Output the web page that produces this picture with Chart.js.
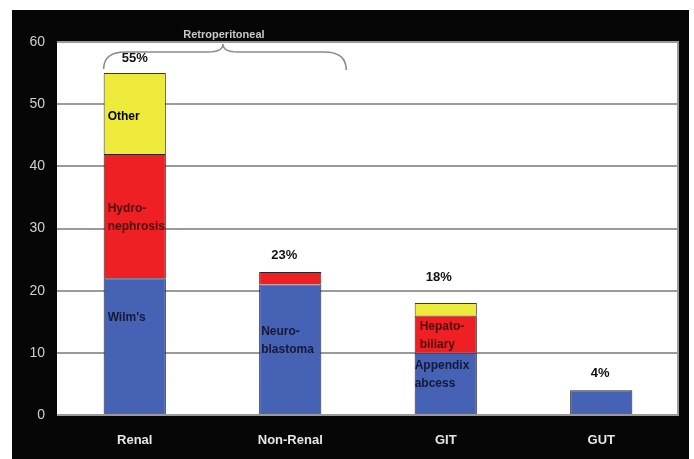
<!DOCTYPE html>
<html>
<head>
<meta charset="utf-8">
<script src="https://cdn.jsdelivr.net/npm/chart.js@4/dist/chart.umd.min.js"></script>
<style>
html, body { margin: 0; padding: 0; background: #fff; }
</style>
</head>
<body>
<canvas id="bar" width="694" height="459"></canvas>
<script>
// chart data
const categories = ['Renal', 'Non-Renal', 'GIT', 'GUT'];
const blueValues = [22, 21, 10, 4];
const redValues = [20, 2, 6, null];
const yellowValues = [13, null, 2, null];
const totalLabels = ['55%', '23%', '18%', '4%'];
const blueNames = ["Wilm's", 'Neuro-\nblastoma', 'Appendix\nabcess', ''];
const redNames = ['Hydro-\nnephrosis', '', 'Hepato-\nbiliary', ''];
const yellowNames = ['Other', '', '', ''];
const groupLabel = 'Retroperitoneal';

const FONT = '"Liberation Sans", Arial, sans-serif';

// black frame + white plot area behind the chart
const framePlugin = {
    id: 'frame',
    beforeDraw: function (c) {
        const ctx = c.ctx;
        const a = c.chartArea;
        ctx.save();
        ctx.fillStyle = '#fff';
        ctx.fillRect(0, 0, c.width, c.height);
        ctx.fillStyle = '#060606';
        ctx.fillRect(12, 10, 677, 449);
        ctx.fillStyle = '#fff';
        ctx.fillRect(a.left, a.top, a.right - a.left, a.bottom - a.top);
        ctx.restore();
    },
    afterDraw: function (c) {
        const ctx = c.ctx;
        const a = c.chartArea;
        ctx.save();
        ctx.strokeStyle = '#9a9a9a';
        ctx.lineWidth = 2;
        ctx.beginPath();
        ctx.moveTo(a.right - 1, a.top);
        ctx.lineTo(a.right - 1, a.bottom);
        ctx.stroke();
        ctx.restore();
    }
};

// text inside / above the bars, and the bracket
const labelPlugin = {
    id: 'labels',
    afterDatasetsDraw: function (c) {
        const ctx = c.ctx;
        const x = c.scales.x;
        const y = c.scales.y;
        const a = c.chartArea;
        const barW = x.width / categories.length * 0.4;
        ctx.save();
        ctx.textBaseline = 'middle';

        function drawLines(text, left, mid, color) {
            const lines = text.split('\n');
            ctx.fillStyle = color;
            lines.forEach(function (ln, k) {
                ctx.fillText(ln, left, mid + (k - (lines.length - 1) / 2) * 18);
            });
        }

        ctx.font = 'bold 12px ' + FONT;
        ctx.textAlign = 'left';
        categories.forEach(function (cat, i) {
            const left = x.getPixelForValue(i) - barW / 2;
            const b = blueValues[i] || 0;
            const r = redValues[i] || 0;
            const yl = yellowValues[i] || 0;
            if (yellowNames[i]) drawLines(yellowNames[i], left + 4, y.getPixelForValue(b + r + yl / 2) + 3, '#000');
            if (redNames[i]) drawLines(redNames[i], left + (i === 0 ? 4 : 5), y.getPixelForValue(b + r / 2) + 2, '#4a0c0c');
            if (blueNames[i]) {
                const mid = i === 0 ? y.getPixelForValue(b) + 39 : y.getPixelForValue(b / 2) - 9;
                drawLines(blueNames[i], left + (i === 2 ? 0 : (i === 0 ? 4 : 2)), mid, '#16183a');
            }
        });

        ctx.textAlign = 'center';
        ctx.font = 'bold 13px ' + FONT;
        const dy = [15, 17, 26, 17];
        const dx = [0, -6, -7, -1];
        categories.forEach(function (cat, i) {
            const tot = (blueValues[i] || 0) + (redValues[i] || 0) + (yellowValues[i] || 0);
            ctx.fillStyle = '#111';
            ctx.fillText(totalLabels[i], x.getPixelForValue(i) + dx[i], y.getPixelForValue(tot) - dy[i]);
        });

        // bracket over Renal + Non-Renal
        const x0 = x.getPixelForValue(0) - barW / 2;
        const x1 = x.getPixelForValue(1) + 56;
        const mid = (x0 + x1) / 2 - 2;
        const t = a.top;
        ctx.strokeStyle = '#8a8a8a';
        ctx.lineWidth = 1.5;
        ctx.beginPath();
        ctx.moveTo(x0, t + 27);
        ctx.quadraticCurveTo(x0, t + 10, x0 + 22, t + 10);
        ctx.lineTo(mid - 15, t + 10);
        ctx.quadraticCurveTo(mid, t + 10, mid, t + 2);
        ctx.quadraticCurveTo(mid, t + 10, mid + 15, t + 10);
        ctx.lineTo(x1 - 22, t + 10);
        ctx.quadraticCurveTo(x1, t + 10, x1, t + 28);
        ctx.stroke();

        ctx.fillStyle = '#c8c8c8';
        ctx.font = 'bold 11px ' + FONT;
        ctx.fillText(groupLabel, mid + 1, 35);
        ctx.restore();
    }
};

const data = {
    labels: categories,
    datasets: [
        { label: 'Blue', data: blueValues, backgroundColor: '#4562b4', borderColor: '#22222e', borderWidth: 1 },
        { label: 'Red', data: redValues, backgroundColor: '#ee2024', borderColor: '#2e2222', borderWidth: 1 },
        { label: 'Yellow', data: yellowValues, backgroundColor: '#eeea3c', borderColor: '#3a3a22', borderWidth: 1 }
    ]
};

new Chart(document.getElementById('bar').getContext('2d'), {
    type: 'bar',
    data: data,
    options: {
        responsive: false,
        animation: false,
        layout: { padding: { left: 12, top: 42, right: 15, bottom: 0 } },
        plugins: { legend: { display: false }, tooltip: { enabled: false } },
        datasets: { bar: { barPercentage: 0.4, categoryPercentage: 1 } },
        scales: {
            x: {
                stacked: true,
                grid: { display: false, drawTicks: false },
                border: { display: false },
                ticks: { color: '#e6e6e6', padding: 18, font: { family: FONT, size: 13, weight: 'bold' } },
                afterFit: function (s) { s.height = 44; }
            },
            y: {
                stacked: true,
                min: 0,
                max: 60,
                grid: { color: '#9a9a9a', lineWidth: 2, drawTicks: false },
                border: { display: false },
                ticks: { stepSize: 10, color: '#d0d0d0', padding: 12, font: { family: FONT, size: 14 } },
                afterFit: function (s) { s.width = 45; }
            }
        }
    },
    plugins: [framePlugin, labelPlugin]
});
</script>
</body>
</html>
